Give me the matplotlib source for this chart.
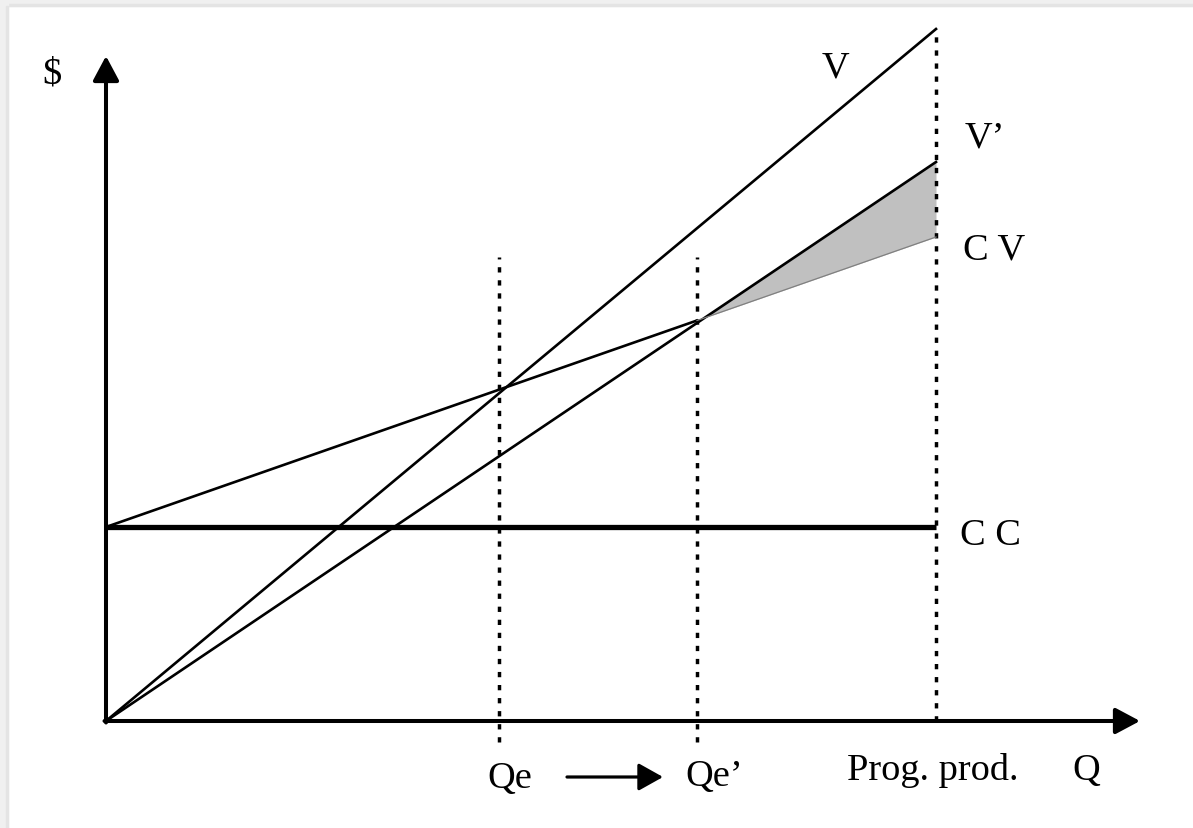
import numpy as np
import matplotlib
matplotlib.use("Agg")
import matplotlib.pyplot as plt
from matplotlib.patches import Rectangle

plt.rcParams['font.family'] = ['Liberation Serif', 'DejaVu Serif']
plt.rcParams['lines.scale_dashes'] = False

# ---- data (Q on x, $ on y) ----
q_ends = [0, 830]          # 0 and programmed production
V_vals = [0, 692]          # revenue V
V2_vals = [0, 559]         # revenue V'
CV_vals = [194, 484]       # variable-cost line C V
CC_vals = [194, 194]       # fixed cost C C
q_e = 393                  # Qe
q_e2 = 591                 # Qe'
q_prog = 830               # Prog. prod.
labels_x = ["Qe", "Qe\u2019", "Prog. prod.", "Q"]

W, H = 1193, 829
fig = plt.figure(figsize=(W / 100, H / 100), dpi=100)
ax = fig.add_axes([0, 0, 1, 1])
ox, oy = 106, 722
ax.set_xlim(-ox, W - ox)
ax.set_ylim(-(H - oy), oy)
ax.axis('off')

# light frame at top/left
fig.patches.append(Rectangle((0, 1 - 7 / H), 1, 7 / H, transform=fig.transFigure,
                             color='#f0f0f0', zorder=0))
fig.patches.append(Rectangle((0, 1 - 7 / H), 1, 2 / H, transform=fig.transFigure,
                             color='#e4e4e4', zorder=0))
fig.patches.append(Rectangle((0, 0), 8 / W, 1, transform=fig.transFigure,
                             color='#f0f0f0', zorder=0))
fig.patches.append(Rectangle((6 / W, 0), 2 / W, 1 - 7 / H, transform=fig.transFigure,
                             color='#e4e4e4', zorder=0))

def line_at(vals, q):
    return np.interp(q, q_ends, vals)

# shaded area between V' and CV beyond Qe'
qq = np.linspace(q_e2, q_prog, 50)
ax.fill_between(qq, line_at(CV_vals, qq), line_at(V2_vals, qq), color='#c0c0c0',
                lw=0, zorder=1)

# lines
lw = 1.9
ax.plot(q_ends, V_vals, color='black', lw=lw, zorder=3)
ax.plot(q_ends, V2_vals, color='black', lw=lw, zorder=3)
ax.plot([0, q_e2], [line_at(CV_vals, 0), line_at(CV_vals, q_e2)], color='black', lw=lw, zorder=3)
ax.plot([q_e2, q_prog], [line_at(CV_vals, q_e2), line_at(CV_vals, q_prog)], color='#808080',
        lw=0.9, zorder=3)
ax.plot(q_ends, CC_vals, color='black', lw=3.8, zorder=3, solid_capstyle='butt')

# dotted verticals
dash = (3.8, 5.6)
for q in [q_e, q_e2]:
    ax.plot([q, q], [-21, 464], color='black', lw=2.5, dashes=dash, zorder=2)
ax.plot([q_prog, q_prog], [0, V_vals[1]], color='black', lw=2.5, dashes=dash, zorder=2)

# axes with arrowheads
ap = dict(arrowstyle='-|>,head_length=0.75,head_width=0.4', lw=2.9, color='black',
          shrinkA=0, shrinkB=0, mutation_scale=20)
ax.annotate('', xy=(0, 665), xytext=(0, -1.5), arrowprops=ap, zorder=4)
ax.annotate('', xy=(1034, 0), xytext=(-1.5, 0), arrowprops=ap, zorder=4)

# small arrow Qe -> Qe'
ap2 = dict(arrowstyle='-|>,head_length=0.75,head_width=0.42', lw=2.3, color='black',
           shrinkA=0, shrinkB=0, mutation_scale=20)
ax.annotate('', xy=(557, -56), xytext=(461, -56), arrowprops=ap2)

fs = 27.6
ax.text(-64, 638, "$", fontsize=fs, ha='left', va='baseline')
ax.text(716, 645, "V", fontsize=fs, ha='left', va='baseline')
ax.text(859, 575, "V\u2019", fontsize=fs, ha='left', va='baseline')
ax.text(857, 463, "C V", fontsize=fs, ha='left', va='baseline')
ax.text(854, 177, "C C", fontsize=fs, ha='left', va='baseline')
ax.text(381, -66, labels_x[0], fontsize=fs, ha='left', va='baseline')
ax.text(579, -64, labels_x[1], fontsize=fs, ha='left', va='baseline')
ax.text(741, -58, labels_x[2], fontsize=fs, ha='left', va='baseline')
ax.text(966, -58, labels_x[3], fontsize=fs, ha='left', va='baseline')

fig.savefig("out.png", dpi=100)
